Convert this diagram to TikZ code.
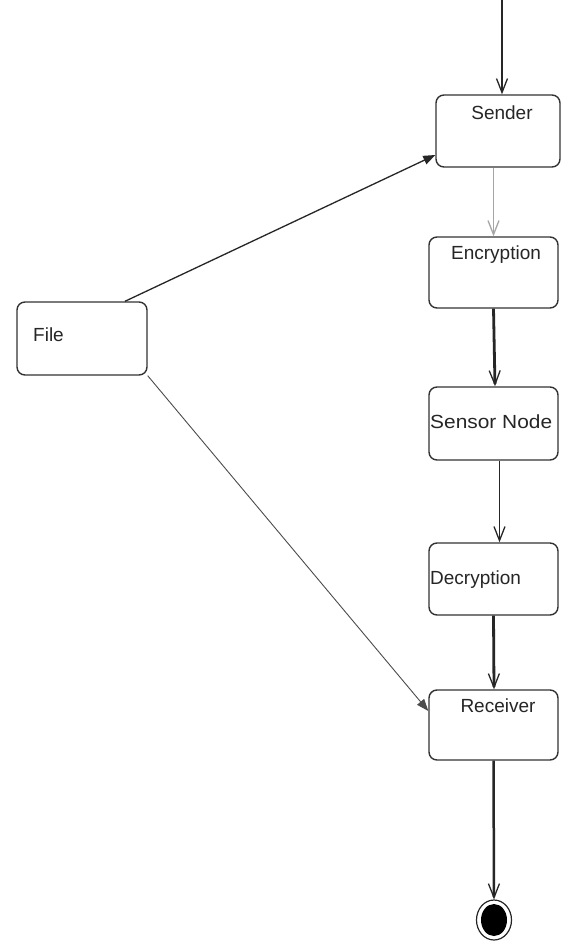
\documentclass[tikz,border=0pt]{standalone}
\usepackage{fontspec}
\setmainfont{Liberation Sans}
\usetikzlibrary{arrows.meta,shapes.geometric}
\begin{document}
\begin{tikzpicture}[x=1pt,y=-1pt,
  box/.style={draw=black!80, line width=1.4pt, rounded corners=8pt, inner sep=0pt},
  txt/.style={font=\fontsize{19}{22}\selectfont, text=black!85, inner sep=0pt},
  open/.style={-{Straight Barb[length=14pt,width=11pt,line width=1.3pt]}, draw=black!85},
  filled/.style={-{Triangle[length=12pt,width=9pt]}, draw=black!85}
]
\useasboundingbox (0,0) rectangle (561,952);
\fill[white] (0,0) rectangle (561,952);

% boxes
\node[box, minimum width=124pt, minimum height=72pt] (sender) at (498,131) {};
\node[box, minimum width=129pt, minimum height=71pt] (enc) at (493.5,272.5) {};
\node[box, minimum width=129pt, minimum height=73pt] (sensor) at (493.5,423.5) {};
\node[box, minimum width=129pt, minimum height=72pt] (dec) at (493.5,579) {};
\node[box, minimum width=129pt, minimum height=70pt] (recv) at (493.5,725) {};
\node[box, minimum width=130pt, minimum height=73pt] (file) at (82,338.5) {};

% labels
\node[txt] (sendertxt) at (502,113) {Sender};
\node[txt] (enctxt) at (496,255) {Encryption};
\node[txt, anchor=west, xscale=1.1] (sensortxt) at (430,422) {Sensor Node};
\node[txt, anchor=west] (dectxt) at (430,580) {Decryption};
\node[txt] (recvtxt) at (498,706) {Receiver};
\node[txt, anchor=west] (filetxt) at (33,335) {File};

% final node
\node[draw=black!85, line width=1.2pt, ellipse, minimum width=35pt, minimum height=40pt, inner sep=0pt] (final) at (494,920) {};
\fill[black] (final.center) ellipse [x radius=13pt, y radius=16pt];

% start
\coordinate (start) at (502,0);
\draw[open, line width=2pt] (start) -- (start |- sender.north);

% flow
\draw[open, line width=0.5pt, draw=black!35] (sender.south -| enc.north) -- (enc.north);
\draw[open, line width=2.8pt] (enc.south) -- ([xshift=1.5pt]sensor.north);
\draw[open, line width=1.3pt] ([xshift=6pt]sensor.south) -- ([xshift=6pt]dec.north);
\draw[open, line width=2.8pt] (dec.south) -- ([xshift=0.5pt]recv.north);
\draw[open, line width=2.5pt] (recv.south) -- (final.north);

% file arrows
\draw[filled, line width=1.3pt] ([xshift=43pt]file.north) -- ([yshift=-24pt]sender.west);
\draw[filled, line width=0.9pt, draw=black!70] (file.south east) -- ([yshift=14pt]recv.west);
\end{tikzpicture}
\end{document}
